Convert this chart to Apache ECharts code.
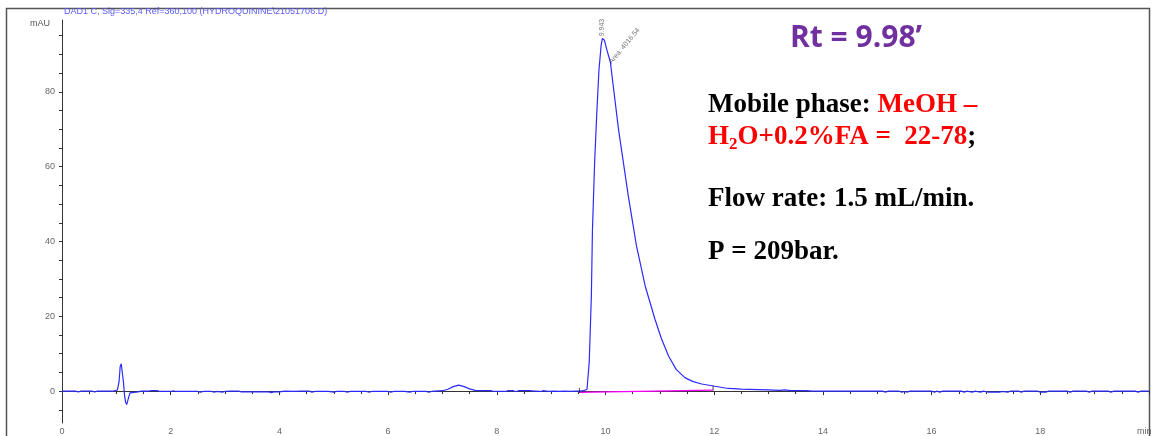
<!DOCTYPE html>
<html>
<head>
<meta charset="utf-8">
<script src="https://cdn.jsdelivr.net/npm/echarts@6/dist/echarts.min.js"></script>
<style>
  html, body { margin: 0; padding: 0; background: #fff; }
  #chart { width: 1152px; height: 436px; }
</style>
</head>
<body>
<div id="chart"></div>
<script>
// DAD1 C signal, retention time (min) vs absorbance (mAU)
const times = [
  0.00, 0.25, 0.30, 0.35, 0.55, 0.60, 0.65, 0.85, 0.95, 1.02, 1.05, 1.07, 1.09, 1.11, 1.13, 1.15,
  1.17, 1.19, 1.21, 1.23, 1.25, 1.28, 1.40, 1.45, 1.60, 1.65, 1.75, 1.80, 2.00, 2.05, 2.10, 2.50,
  2.55, 2.60, 2.75, 2.80, 2.85, 2.95, 3.00, 3.10, 3.25, 3.30, 3.50, 3.80, 3.85, 3.90, 4.00, 4.10,
  4.25, 4.40, 4.55, 4.60, 4.65, 4.90, 5.00, 5.05, 5.20, 5.25, 5.30, 5.60, 5.65, 5.70, 6.00, 6.05,
  6.10, 6.30, 6.40, 6.45, 6.70, 6.75, 6.80, 7.00, 7.10, 7.20, 7.30, 7.40, 7.50, 7.60, 7.70, 7.90,
  7.95, 8.15, 8.20, 8.30, 8.35, 8.40, 8.60, 8.70, 8.80, 8.85, 8.95, 9.05, 9.15, 9.25, 9.35, 9.45,
  9.52, 9.60, 9.66, 9.70, 9.74, 9.76, 9.80, 9.84, 9.88, 9.92, 9.943, 9.98, 10.02, 10.09, 10.24, 10.42,
  10.57, 10.73, 10.91, 11.03, 11.16, 11.30, 11.46, 11.60, 11.77, 12.01, 12.26, 12.50, 12.80, 13.00, 13.20, 13.30,
  13.40, 13.70, 13.80, 14.00, 15.10, 15.15, 15.20, 15.40, 15.45, 15.50, 15.55, 15.60, 16.00, 16.05, 16.10, 16.15,
  16.20, 16.55, 16.60, 16.65, 16.75, 16.80, 16.90, 16.95, 17.05, 17.25, 17.30, 17.40, 17.45, 17.60, 17.65, 17.70,
  17.95, 18.00, 18.10, 18.15, 18.50, 18.55, 18.60, 18.85, 18.90, 18.95, 19.25, 19.30, 19.35, 19.75, 19.80, 19.85,
  20.00
];
const signal = [
  0.0, 0.0, -0.25, 0.0, 0.0, -0.25, 0.0, 0.0, 0.0, 0.3, 2.5, 6.5, 7.3, 6.9, 2.5, -1.0,
  -3.0, -3.6, -3.4, -1.5, -0.5, -0.2, -0.2, 0.0, 0.0, 0.15, 0.15, -0.1, -0.1, 0.1, -0.1, -0.1,
  -0.3, -0.1, -0.1, -0.3, -0.1, -0.3, -0.1, 0.0, 0.0, -0.2, -0.2, -0.2, -0.4, -0.2, -0.2, 0.0,
  -0.1, 0.0, 0.0, -0.3, -0.1, -0.1, -0.3, -0.1, -0.1, -0.3, -0.1, -0.1, -0.3, -0.1, -0.1, -0.3,
  -0.1, -0.1, -0.3, -0.1, -0.1, -0.3, -0.1, 0.1, 0.5, 1.2, 1.6, 1.2, 0.6, 0.2, 0.1, 0.1,
  -0.1, -0.1, 0.1, 0.1, -0.1, 0.1, 0.1, 0.0, -0.1, 0.1, -0.1, 0.0, -0.1, 0.0, -0.1, 0.0,
  0.0, 0.1, 0.5, 7.6, 25.4, 43.2, 61.1, 74.4, 85.9, 92.5, 94.3, 93.8, 91.5, 87.9, 69.9, 52.1,
  38.8, 28.1, 19.2, 14.0, 9.4, 5.8, 3.6, 2.6, 1.9, 1.3, 0.7, 0.5, 0.4, 0.3, 0.2, 0.3,
  0.1, 0.1, 0.0, 0.0, 0.0, -0.3, 0.0, 0.0, -0.3, -0.1, -0.3, 0.0, 0.0, -0.3, 0.0, -0.3,
  0.0, 0.0, -0.3, 0.0, -0.3, 0.0, -0.3, 0.0, -0.3, -0.3, -0.1, -0.3, 0.0, 0.0, -0.3, 0.0,
  0.0, -0.3, -0.3, 0.0, 0.0, -0.3, 0.0, 0.0, -0.3, 0.0, 0.0, -0.3, 0.0, 0.0, -0.3, 0.0,
  0.0
];

// Integration of the main peak
const peakTime = 9.943;
const peakArea = 4016.54;
const integrationTimes = [9.52, 11.98];
const integrationLevels = [-0.35, 0.27];

// Axis ticks
const xTickLabels = [0, 2, 4, 6, 8, 10, 12, 14, 16, 18];
const yTickLabels = [0, 20, 40, 60, 80];
const yMinorTicks = [-5, 0, 5, 10, 15, 20, 25, 30, 35, 40, 45, 50, 55, 60, 65, 70, 75, 80, 85, 90, 95];

const signalTitle = 'DAD1 C, Sig=335,4 Ref=360,100 (HYDROQUININE\\21051706.D)';

const traceData = times.map((t, i) => [t, signal[i]]);
const apexIdx = times.indexOf(peakTime);
const areaIdx = times.indexOf(10.02);

const annoFont = { fontSize: 7, color: '#555', fontFamily: 'Liberation Sans' };

const axisColor = '#333';
const chart = echarts.init(document.getElementById('chart'));
chart.setOption({
  animation: false,
  backgroundColor: '#fff',
  grid: { left: 62, top: 20, width: 1090, height: 404 },
  xAxis: {
    type: 'value', min: 0, max: 20, interval: 2,
    axisLine: { show: true, lineStyle: { color: axisColor, width: 1 } },
    axisTick: { show: true, length: 4, lineStyle: { color: axisColor } },
    minorTick: { show: true, splitNumber: 4, length: 3, lineStyle: { color: axisColor } },
    splitLine: { show: false },
    axisLabel: {
      fontSize: 9, color: '#666', margin: 4, fontFamily: 'Liberation Sans',
      formatter: v => (xTickLabels.indexOf(v) >= 0 ? String(v) : '')
    }
  },
  yAxis: {
    type: 'value', min: -8.53, max: 99.2,
    axisLine: { show: true, lineStyle: { color: axisColor, width: 1 } },
    axisTick: { show: true, length: 3, customValues: yMinorTicks, lineStyle: { color: axisColor } },
    splitLine: { show: false },
    axisLabel: {
      customValues: yTickLabels, fontSize: 9, color: '#666', margin: 7,
      fontFamily: 'Liberation Sans'
    }
  },
  series: [
    {
      type: 'line', data: traceData, showSymbol: false, symbol: 'none',
      lineStyle: { color: '#2b2bff', width: 1.2 }, z: 3
    },
    {
      type: 'line',
      data: integrationTimes.map((t, i) => [t, integrationLevels[i]]),
      showSymbol: false, symbol: 'none',
      lineStyle: { color: '#ff00ff', width: 1.2 }, z: 2
    },
    {
      type: 'scatter',
      data: integrationTimes.map((t, i) => [t, integrationLevels[i]]),
      symbol: 'rect', symbolSize: [1, 5], symbolOffset: [0, -2],
      itemStyle: { color: '#222' }, z: 4
    },
    {
      // peak annotations: retention time above the apex, area along the tail
      type: 'scatter', symbolSize: 0, z: 5, silent: true,
      data: [
        {
          value: [times[apexIdx], signal[apexIdx]],
          label: Object.assign({
            show: true, formatter: String(peakTime), rotate: 90, position: 'top',
            distance: 2, align: 'left', verticalAlign: 'middle'
          }, annoFont)
        },
        {
          value: [times[areaIdx], signal[areaIdx]],
          label: Object.assign({
            show: true, formatter: 'Area: ' + peakArea, rotate: 50, position: 'right',
            distance: 1, offset: [-9, 11], align: 'left', verticalAlign: 'middle'
          }, annoFont)
        }
      ]
    }
  ],
  graphic: [
    { type: 'rect', shape: { x: 6.5, y: 8.5, width: 1143, height: 440 },
      style: { fill: 'none', stroke: '#555', lineWidth: 1.5 }, silent: true },
    { type: 'text', x: 64, y: 12, style: { text: signalTitle, fontSize: 9,
      fontFamily: 'Liberation Sans', fill: '#5a5af2', verticalAlign: 'middle' } },
    { type: 'text', x: 30, y: 24, style: { text: 'mAU', fontSize: 9,
      fontFamily: 'Liberation Sans', fill: '#555', verticalAlign: 'middle' } },
    { type: 'text', x: 1137, y: 432, style: { text: 'min', fontSize: 9,
      fontFamily: 'Liberation Sans', fill: '#666', verticalAlign: 'middle' } },
    { type: 'text', x: 790, y: 38, style: { text: 'Rt = 9.98\u2019', fontSize: 30,
      fontWeight: 'bold', fontFamily: 'Open Sans', fill: '#7030a0', verticalAlign: 'middle' } },
    { type: 'text', x: 708, y: 105, style: {
      text: '{b|Mobile phase: }{r|MeOH \u2013}', verticalAlign: 'middle',
      rich: {
        b: { fontSize: 27, fontWeight: 'bold', fontFamily: 'Liberation Serif', fill: '#000' },
        r: { fontSize: 27, fontWeight: 'bold', fontFamily: 'Liberation Serif', fill: '#ff0000' }
      } } },
    { type: 'text', x: 708, y: 137, style: {
      text: '{r|H}{s|2}{r|O+0.2%FA =  22-78}{b|;}', verticalAlign: 'middle',
      rich: {
        b: { fontSize: 27, fontWeight: 'bold', fontFamily: 'Liberation Serif', fill: '#000', lineHeight: 30 },
        r: { fontSize: 27, fontWeight: 'bold', fontFamily: 'Liberation Serif', fill: '#ff0000', lineHeight: 30 },
        s: { fontSize: 17, fontWeight: 'bold', fontFamily: 'Liberation Serif', fill: '#ff0000',
             padding: [16, 0, 0, 0] }
      } } },
    { type: 'text', x: 708, y: 199, style: { text: 'Flow rate: 1.5 mL/min.', fontSize: 27,
      fontWeight: 'bold', fontFamily: 'Liberation Serif', fill: '#000', verticalAlign: 'middle' } },
    { type: 'text', x: 708, y: 252, style: { text: 'P = 209bar.', fontSize: 27,
      fontWeight: 'bold', fontFamily: 'Liberation Serif', fill: '#000', verticalAlign: 'middle' } }
  ]
});
</script>
</body>
</html>
